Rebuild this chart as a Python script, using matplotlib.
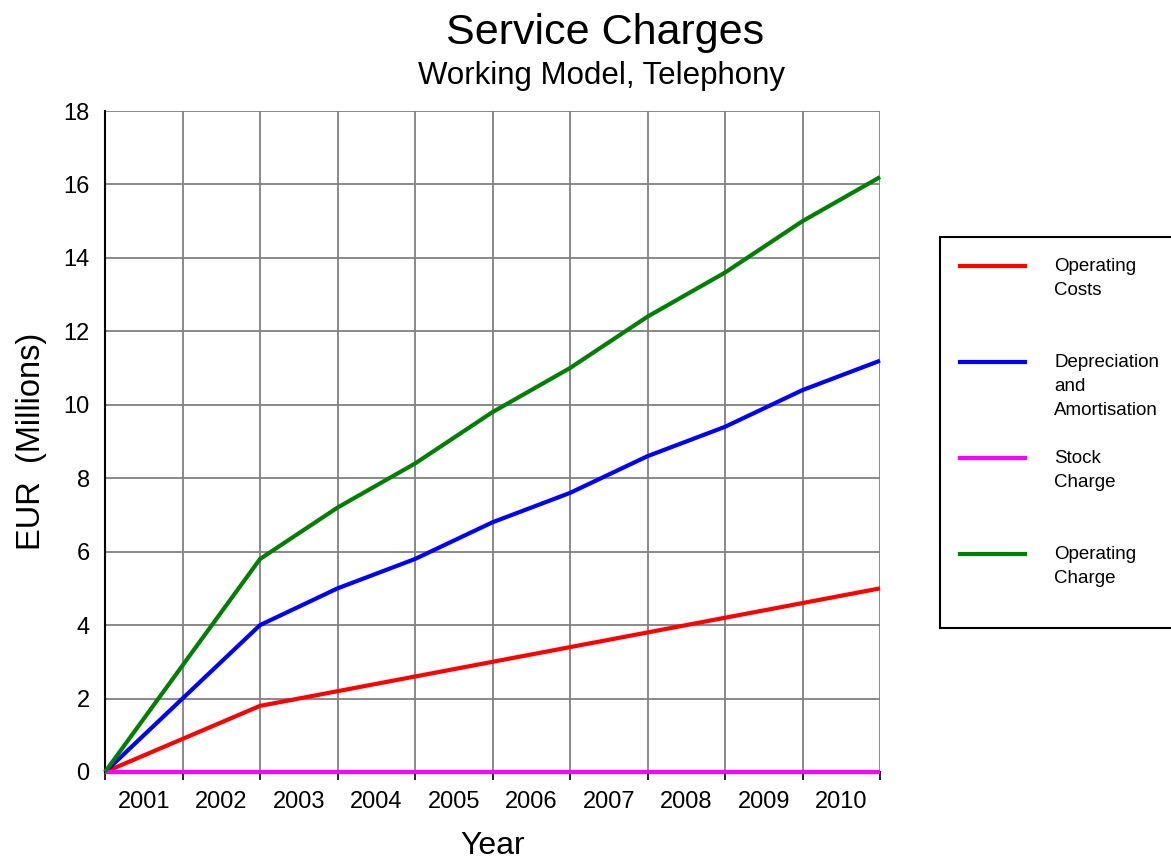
import matplotlib
matplotlib.use("Agg")
import matplotlib.pyplot as plt
from matplotlib.lines import Line2D
from matplotlib.patches import Rectangle

plt.rcParams['font.family'] = ['Liberation Sans', 'DejaVu Sans']

years = ["2001", "2002", "2003", "2004", "2005", "2006", "2007", "2008", "2009", "2010"]
x_points = list(range(11))
operating_costs = [0, 0.9, 1.8, 2.2, 2.6, 3.0, 3.4, 3.8, 4.2, 4.6, 5.0]
depreciation = [0, 2.0, 4.0, 5.0, 5.8, 6.8, 7.6, 8.6, 9.4, 10.4, 11.2]
stock_charge = [0] * 11
operating_charge = [0, 2.9, 5.8, 7.2, 8.4, 9.8, 11.0, 12.4, 13.6, 15.0, 16.2]

series = [
    ("Operating\nCosts", operating_costs, "#ff0000"),
    ("Depreciation\nand\nAmortisation", depreciation, "#0000ff"),
    ("Stock\nCharge", stock_charge, "#ff00ff"),
    ("Operating\nCharge", operating_charge, "#008000"),
]

fig = plt.figure(figsize=(11.71, 8.61), dpi=100)
ax = fig.add_axes([105/1171, 1-772/861, 775/1171, 661/861])

for label, vals, col in series:
    ax.plot(x_points, vals, color=col, lw=3.0, solid_capstyle='butt', zorder=3, clip_on=False)

ax.set_xlim(0, 10)
ax.set_ylim(0, 18)
ax.set_yticks(range(0, 19, 2))
ax.set_xticks(range(11))
ax.set_xticklabels([])
ax.set_xticks([i + 0.5 for i in range(10)], minor=True)
ax.set_xticklabels(years, minor=True, fontsize=17)
ax.tick_params(axis='x', which='major', length=6, width=1.2, color='black', direction='out')
ax.tick_params(axis='x', which='minor', length=0, pad=14)
ax.tick_params(axis='y', length=0, pad=11, labelsize=17)
ax.grid(True, which='major', color='#808080', lw=1.3)
ax.set_axisbelow(True)
for s in ['top', 'right']:
    ax.spines[s].set_visible(False)
ax.spines['left'].set_color('black')
ax.spines['left'].set_linewidth(1.5)
ax.spines['bottom'].set_color('black')
ax.spines['bottom'].set_linewidth(1.5)

ax.set_xlabel("Year", fontsize=23, va='baseline')
ax.xaxis.set_label_coords(0.5, -82/661)
ax.set_ylabel("EUR  (Millions)", fontsize=23.5, labelpad=12)

fig.text(605/1171, 1-33/861, "Service Charges", fontsize=31, ha='center', va='center')
fig.text(601/1171, 1-76/861, "Working Model, Telephony", fontsize=22.5, ha='center', va='center')

# legend box
W, H = 1171, 861
fig.patches.append(Rectangle((940/W, 1-628/H), 240/W, 391/H, transform=fig.transFigure,
                             facecolor='white', edgecolor='black', lw=1.5))
ys = [266, 362, 458, 554]
for (label, vals, col), yy in zip(series, ys):
    fig.lines.append(Line2D([960/W, 1025/W], [1-yy/H, 1-yy/H], transform=fig.transFigure,
                            color=col, lw=3.0))
    fig.text(1054/W, 1-(yy-8)/H, label, fontsize=13.5, ha='left', va='top', linespacing=1.52)

fig.savefig("out.png", dpi=100)
